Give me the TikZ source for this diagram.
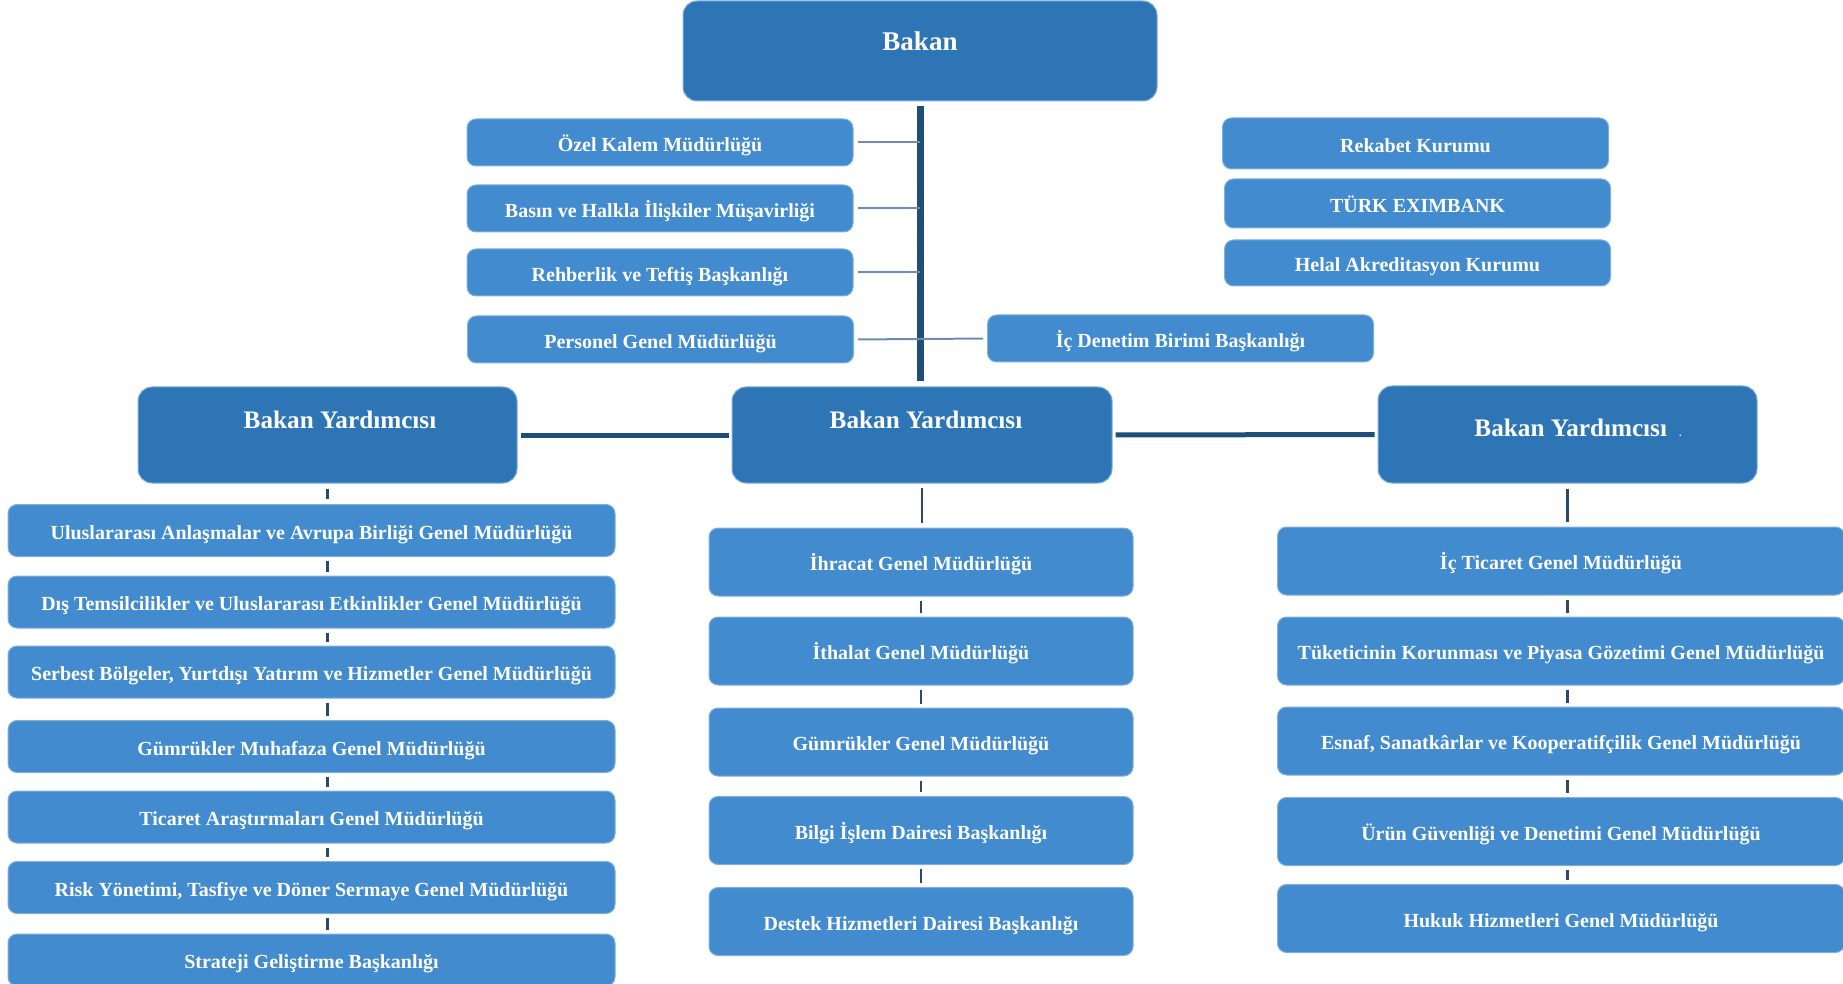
\documentclass[tikz,border=0pt]{standalone}
\usepackage{fontspec}
\setmainfont{Liberation Serif}
\definecolor{topblue}{HTML}{2E75B6}
\definecolor{boxblue}{HTML}{428BCE}
\definecolor{edgeblue}{HTML}{7FB0E0}
\definecolor{trunkcol}{HTML}{1F4E79}
\definecolor{thincol}{HTML}{6D8DAD}
\definecolor{tickcol}{HTML}{2B4A6B}
\begin{document}
\begin{tikzpicture}[x=0.5pt,y=-0.5pt,
  dbox/.style={fill=topblue, draw=edgeblue, line width=0.5pt, rounded corners=7pt, inner sep=0pt},
  lbox/.style={fill=boxblue, draw=edgeblue, line width=0.5pt, rounded corners=4.5pt, inner sep=0pt,
    text=white, font=\bfseries\fontsize{10}{12}\selectfont, text height=1.0em, text depth=0.14em},
  ttext/.style={text=white, inner sep=0pt, font=\bfseries\fontsize{12.6}{14}\selectfont},
  staffbox/.style={lbox, minimum width=193pt, minimum height=23.5pt},
  agencybox/.style={lbox, minimum width=193pt},
  leftbox/.style={lbox, minimum width=303.5pt, minimum height=26pt},
  midbox/.style={lbox, minimum width=212pt, minimum height=34pt},
  rightbox/.style={lbox, minimum width=283.5pt, minimum height=34pt},
  trunk/.style={draw=trunkcol, line width=3.5pt},
  hlink/.style={draw=trunkcol, line width=2.5pt, shorten <=1.5pt, shorten >=1.5pt},
  thin/.style={draw=thincol, line width=1pt},
  tick/.style={draw=tickcol, line width=1.2pt}
]
\useasboundingbox (0,0) rectangle (1843,984);

% top
\node[dbox, minimum width=237pt, minimum height=50pt] (bakan) at (920,51) {};
\node[ttext, font=\bfseries\fontsize{13.5}{15}\selectfont] (bakant) at (920,41) {Bakan};

% staff units
\node[staffbox] (oz) at (660,142.5) {Özel Kalem Müdürlüğü};
\node[staffbox] (bh) at (660,208.5) {Basın ve Halkla İlişkiler Müşavirliği};
\node[staffbox] (rt) at (660,272.5) {Rehberlik ve Teftiş Başkanlığı};
\node[staffbox] (pg) at (660.5,339.5) {Personel Genel Müdürlüğü};
\node[staffbox] (ic) at (1180.5,338.5) {İç Denetim Birimi Başkanlığı};

% related agencies
\node[agencybox, minimum height=25.5pt] (rk) at (1415.5,143.5) {Rekabet Kurumu};
\node[agencybox, minimum height=24.5pt] (te) at (1417.5,203.5) {TÜRK EXIMBANK};
\node[agencybox, minimum height=23pt] (hk) at (1417.5,263) {Helal Akreditasyon Kurumu};

% deputy ministers
\node[dbox, minimum width=189.5pt, minimum height=48pt] (by1) at (327.5,435) {};
\node[dbox, minimum width=190pt, minimum height=48pt] (by2) at (922,435) {};
\node[dbox, minimum width=189.5pt, minimum height=48.5pt] (by3) at (1567.5,434.5) {};
\node[ttext] (by1t) at (340,420) {Bakan Yardımcısı};
\node[ttext] (by2t) at (926,420) {Bakan Yardımcısı};
\node[ttext] (by3t) at (1578,428) {Bakan Yardımcısı\hspace{6pt}{\fontsize{5}{6}\selectfont .}};

% left column
\node[leftbox] (l1) at (311.5,530.5) {Uluslararası Anlaşmalar ve Avrupa Birliği Genel Müdürlüğü};
\node[leftbox] (l2) at (311.5,602) {Dış Temsilcilikler ve Uluslararası Etkinlikler Genel Müdürlüğü};
\node[leftbox] (l3) at (311.5,672) {Serbest Bölgeler, Yurtdışı Yatırım ve Hizmetler Genel Müdürlüğü};
\node[leftbox] (l4) at (311.5,746.5) {Gümrükler Muhafaza Genel Müdürlüğü};
\node[leftbox] (l5) at (311.5,817) {Ticaret Araştırmaları Genel Müdürlüğü};
\node[leftbox] (l6) at (311.5,887.5) {Risk Yönetimi, Tasfiye ve Döner Sermaye Genel Müdürlüğü};
\node[leftbox] (l7) at (311.5,960) {Strateji Geliştirme Başkanlığı};

% middle column
\node[midbox] (m1) at (921,562) {İhracat Genel Müdürlüğü};
\node[midbox] (m2) at (921,651) {İthalat Genel Müdürlüğü};
\node[midbox] (m3) at (921,742) {Gümrükler Genel Müdürlüğü};
\node[midbox] (m4) at (921,830.5) {Bilgi İşlem Dairesi Başkanlığı};
\node[midbox] (m5) at (921,921.5) {Destek Hizmetleri Dairesi Başkanlığı};

% right column
\node[rightbox] (r1) at (1561,561) {İç Ticaret Genel Müdürlüğü};
\node[rightbox] (r2) at (1561,651) {Tüketicinin Korunması ve Piyasa Gözetimi Genel Müdürlüğü};
\node[rightbox] (r3) at (1561,741) {Esnaf, Sanatkârlar ve Kooperatifçilik Genel Müdürlüğü};
\node[rightbox] (r4) at (1561,831.5) {Ürün Güvenliği ve Denetimi Genel Müdürlüğü};
\node[rightbox] (r5) at (1561,918.5) {Hukuk Hizmetleri Genel Müdürlüğü};

% connectors
\draw[trunk, shorten <=2.5pt, shorten >=2.5pt] (bakan.south) -- (bakan.south |- by2.north);
\draw[thin, shorten <=2pt] (oz.east) -- (oz.east -| bakan.south);
\draw[thin, shorten <=2pt] (bh.east) -- (bh.east -| bakan.south);
\draw[thin, shorten <=2pt] (rt.east) -- (rt.east -| bakan.south);
\draw[thin, shorten <=2pt, shorten >=2pt] (pg.east) -- (ic.west);
\draw[hlink] (by1.east) -- (by2.west);
\draw[hlink] (by2.east) -- (by3.west);

\draw[tick, shorten <=2.5pt, shorten >=2.5pt] (by1.south) -- (l1.north -| by1.south);
\foreach \a/\b in {l1/l2,l2/l3,l3/l4,l4/l5,l5/l6,l6/l7}
  \draw[tick, shorten <=2pt, shorten >=2pt] (\a.south -| by1.south) -- (\b.north -| by1.south);

\draw[tick, shorten <=2pt, shorten >=2.5pt] (by2.south) -- (m1.north -| by2.south);
\foreach \a/\b in {m1/m2,m2/m3,m3/m4,m4/m5}
  \draw[tick, shorten <=2pt, shorten >=2pt] (\a.south) -- (\b.north);

\draw[tick, shorten <=2.5pt, shorten >=2.5pt] (by3.south) -- (r1.north -| by3.south);
\foreach \a/\b in {r1/r2,r2/r3,r3/r4,r4/r5}
  \draw[tick, shorten <=2pt, shorten >=2pt] (\a.south -| by3.south) -- (\b.north -| by3.south);
\end{tikzpicture}
\end{document}
